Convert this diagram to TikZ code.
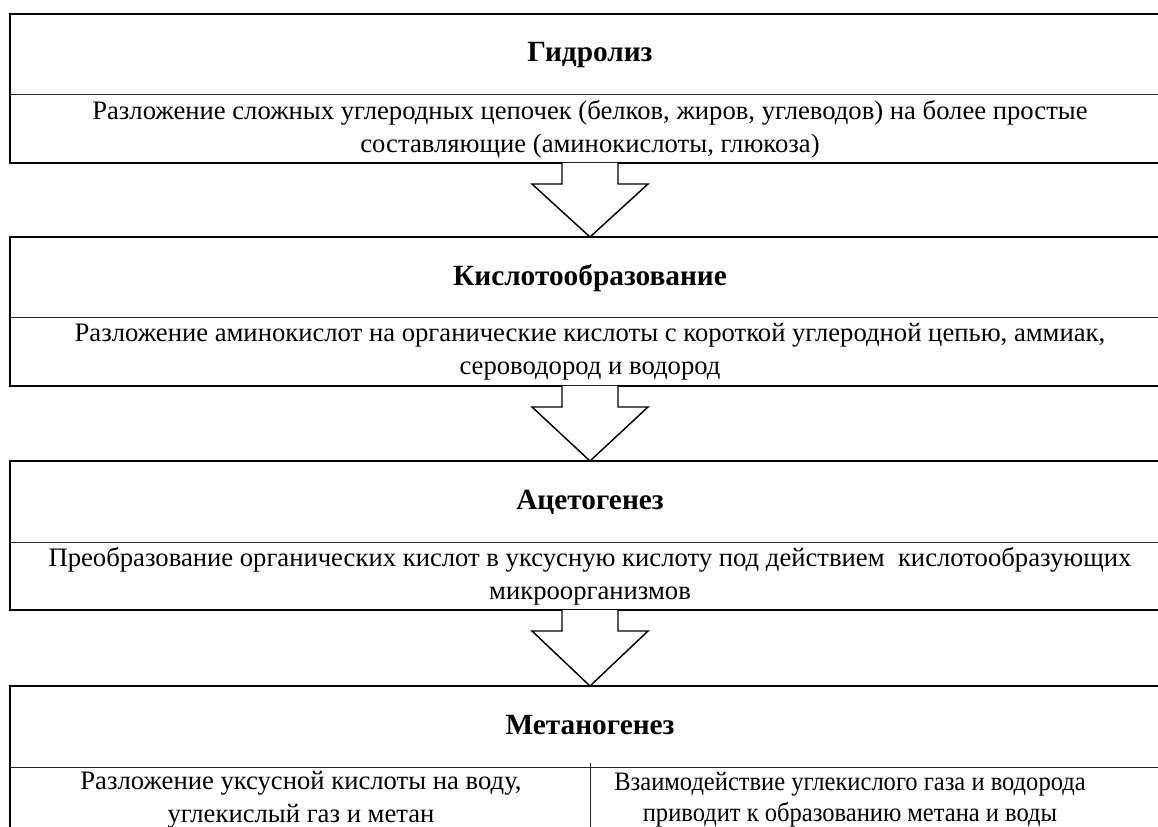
\documentclass[tikz,border=0pt]{standalone}
\usepackage{fontspec}
\setmainfont{Liberation Serif}
\usetikzlibrary{calc}
\begin{document}
\begin{tikzpicture}[x=0.75pt,y=-0.75pt,
  txt/.style={font=\fontsize{20pt}{24.5pt}\selectfont, align=center, inner sep=0pt},
  smalltxt/.style={txt, font=\fontsize{20pt}{23pt}\selectfont\addfontfeature{FakeStretch=0.92}},
  headtxt/.style={txt, font=\fontsize{22pt}{26pt}\selectfont\bfseries},
  outer/.style={draw=black, line width=1.1pt},
  divider/.style={draw=black!85, line width=0.75pt},
  leftthick/.style={draw=black, line width=1.6pt},
  blockarrow/.style={draw=black, line width=1.1pt, line join=miter, fill=white}]
\useasboundingbox (0,0) rectangle (1158,827);
\clip (0,0) rectangle (1158,827);
% anchor coordinates of the boxes
\foreach \i/\t in {1/14, 2/237, 3/461, 4/686} {
  \coordinate (tl\i) at (10,\t);
  \coordinate (tr\i) at (1170,\t);
  \coordinate (ml\i) at (10,\t+81);
  \coordinate (mr\i) at (1170,\t+81);
  \coordinate (bl\i) at (10,\t+149);
  \coordinate (br\i) at (1170,\t+149);
}
% box frames
\foreach \i in {1,2,3,4} {
  \draw[outer] (tl\i) rectangle (br\i);
  \draw[divider] (ml\i) -- (mr\i);
  \draw[leftthick] (ml\i) -- (bl\i);
}
% texts
\node[headtxt] (h1) at (590,55) {Гидролиз};
\node[txt] (b1) at (590,129) {Разложение сложных углеродных цепочек (белков, жиров, углеводов) на более простые\\составляющие (аминокислоты, глюкоза)};
\node[headtxt] (h2) at (590,278) {Кислотообразование};
\node[txt] (b2) at (590,352) {Разложение аминокислот на органические кислоты с короткой углеродной цепью, аммиак,\\сероводород и водород};
\node[headtxt] (h3) at (590,502) {Ацетогенез};
\node[txt] (b3) at (590,576) {Преобразование органических кислот в уксусную кислоту под действием \ кислотообразующих\\микроорганизмов};
\node[headtxt] (h4) at (590,725) {Метаногенез};
\coordinate (vtop) at (590,763);
\coordinate (vbot) at (590,835);
\draw[divider] (vtop) -- (vbot);
\node[txt] (b4l) at (301,800) {Разложение уксусной кислоты на воду,\\углекислый газ и метан};
\node[smalltxt] (b4r) at (850,800) {Взаимодействие углекислого газа и водорода\\приводит к образованию метана и воды};
% block arrows
\foreach \a/\b in {1/2, 2/3, 3/4} {
  \coordinate (s\a) at ($(bl\a)!0.5!(br\a)$);
  \coordinate (e\a) at ($(tl\b)!0.5!(tr\b)$);
  \draw[blockarrow] ($(s\a)+(-28,0)$) -- ++(0,21) -- ++(-30,0) -- (e\a) -- ($(s\a)+(58,21)$) -- ++(-30,0) -- ++(0,-21);
}
\end{tikzpicture}
\end{document}
